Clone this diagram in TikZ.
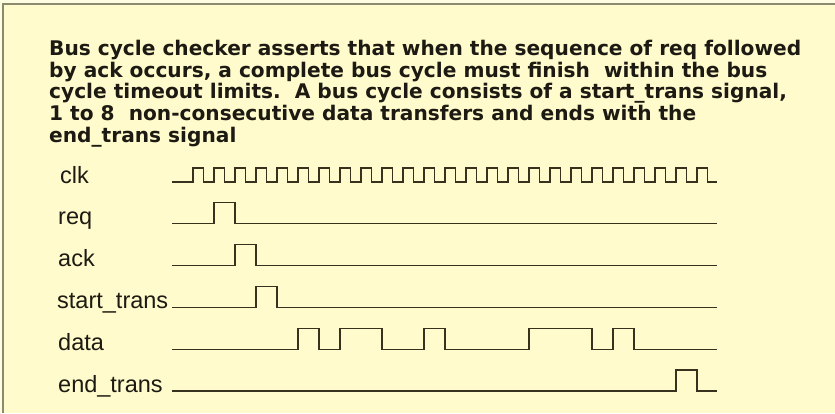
\documentclass[tikz,border=0pt]{standalone}
\usepackage{fontspec}
\setmainfont{Liberation Sans}
\newfontfamily\titlefont{DejaVu Sans}
\definecolor{bgout}{RGB}{255,253,225}
\definecolor{bg}{RGB}{255,251,204}
\definecolor{framec}{RGB}{140,138,110}
\definecolor{wavec}{RGB}{55,50,30}
\definecolor{ink}{RGB}{28,26,18}
\begin{document}
\begin{tikzpicture}[x=1pt,y=-1pt,
  wave/.style={draw=wavec,line width=1.9pt,line join=miter},
  lab/.style={anchor=base west,inner sep=0pt,font=\fontsize{23.5}{23.5}\selectfont,text=ink},
  ttl/.style={anchor=base west,inner sep=0pt,font=\titlefont\bfseries\fontsize{20.15}{22}\selectfont,text=ink}]
\useasboundingbox (0,0) rectangle (835,413);
\fill[bgout] (0,0) rectangle (835,413);
\fill[bg] (3,4) rectangle (835,413);
\draw[framec,line width=1.2pt] (3,413) -- (3,4) -- (835,4);
% title
\node[ttl] (t1) at (49,55.5) {Bus cycle checker asserts that when the sequence of req followed};
\node[ttl] (t2) at (49,77.2) {by ack occurs, a complete bus cycle must finish\ \ within the bus};
\node[ttl] (t3) at (49,98.9) {cycle timeout limits.\ \ A bus cycle consists of a start\_trans signal,};
\node[ttl] (t4) at (49,120.6) {1 to 8\ \ non-consecutive data transfers and ends with the};
\node[ttl] (t5) at (49,142.3) {end\_trans signal};
% labels
\node[lab] (lclk) at (60,183) {clk};
\node[lab] (lreq) at (58,224.5) {req};
\node[lab] (lack) at (58,266.5) {ack};
\node[lab] (lst) at (57,308.5) {start\_trans};
\node[lab] (ldata) at (58,350.5) {data};
\node[lab] (lend) at (58,392) {end\_trans};
% clock
\draw[wave] (172,182) \foreach \k in {0,...,24} { -- ({193+21*\k},182) -- ({193+21*\k},168) -- ({203.5+21*\k},168) -- ({203.5+21*\k},182) } -- (717,182);
% req
\draw[wave] (172,223.5) -- (214,223.5) -- (214,202.5) -- (235,202.5) -- (235,223.5) -- (717,223.5);
% ack
\draw[wave] (172,265.5) -- (235,265.5) -- (235,244.5) -- (256,244.5) -- (256,265.5) -- (717,265.5);
% start_trans
\draw[wave] (172,307.5) -- (256,307.5) -- (256,286.5) -- (277,286.5) -- (277,307.5) -- (717,307.5);
% data
\draw[wave] (172,349.5) -- (298,349.5) -- (298,328.5) -- (319,328.5) -- (319,349.5) -- (340,349.5) -- (340,328.5) -- (382,328.5) -- (382,349.5)
  -- (424,349.5) -- (424,328.5) -- (445,328.5) -- (445,349.5) -- (529,349.5) -- (529,328.5) -- (592,328.5) -- (592,349.5)
  -- (613,349.5) -- (613,328.5) -- (634,328.5) -- (634,349.5) -- (717,349.5);
% end_trans
\draw[wave] (172,391) -- (676,391) -- (676,370) -- (697,370) -- (697,391) -- (717,391);
\end{tikzpicture}
\end{document}
